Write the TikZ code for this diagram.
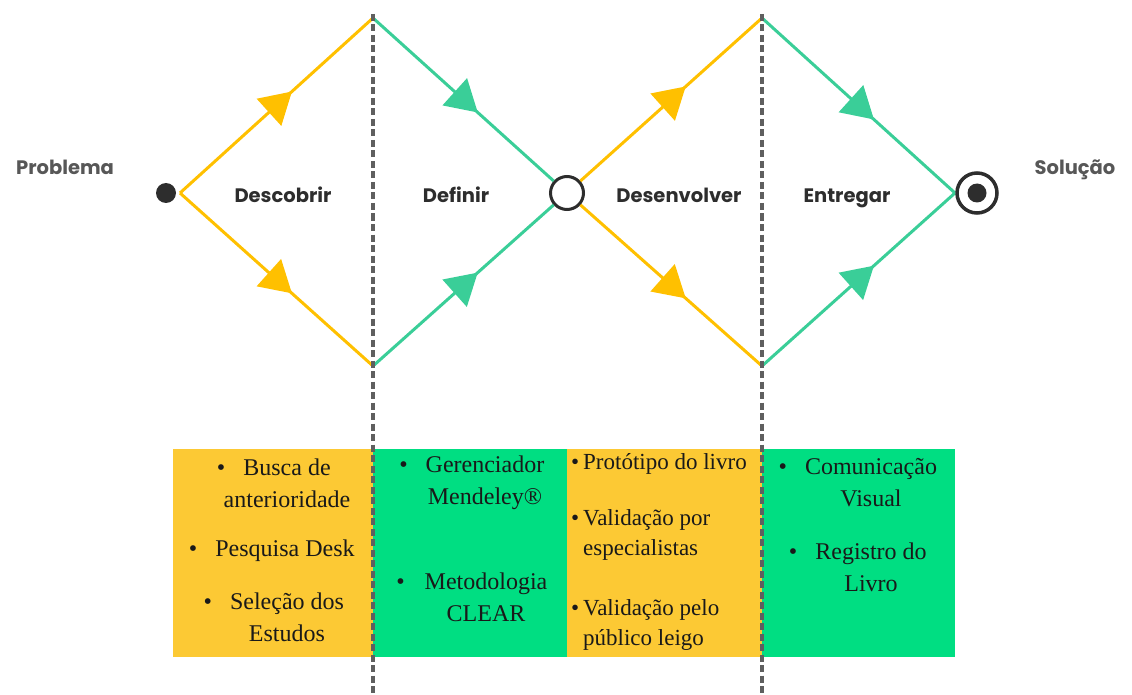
\documentclass[tikz,border=0pt]{standalone}
\usepackage{fontspec}
\setmainfont{Liberation Serif}
\newfontfamily\popfont{Poppins}
\usetikzlibrary{arrows.meta,decorations.markings}
\definecolor{amarelo}{RGB}{255,192,0}
\definecolor{verde}{RGB}{58,206,152}
\definecolor{caixaamarela}{RGB}{252,201,52}
\definecolor{caixaverde}{RGB}{0,222,130}
\definecolor{cinza}{RGB}{45,45,45}
\definecolor{tracejado}{RGB}{95,95,95}
\begin{document}
\begin{tikzpicture}[x=1pt,y=-1pt,
  seta/.style={line width=3pt,draw=#1,fill=#1,postaction={decorate},
    decoration={markings,mark=at position 0.58 with {\arrow{Triangle[length=31pt,width=36pt]}}}},
  fase/.style={font=\popfont\bfseries\fontsize{19.5}{22}\selectfont,text=cinza,inner sep=0pt,anchor=base},
  ponta/.style={font=\popfont\bfseries\fontsize{19.5}{22}\selectfont,text=cinza!80,inner sep=0pt,anchor=base},
  item/.style={font=\fontsize{24}{32}\selectfont,text=black!90,align=center,inner sep=0pt},
  itemb/.style={font=\fontsize{23}{30}\selectfont,text=black!90,align=left,anchor=west,inner sep=0pt},
  divisa/.style={draw=tracejado,line width=3.5pt,dash pattern=on 7pt off 3.5pt}]
\useasboundingbox (0,0) rectangle (1132,695);
\coordinate (v1) at (180,193);
\coordinate (topo1) at (373,18);
\coordinate (base1) at (373,366);
\coordinate (topo2) at (762,18);
\coordinate (base2) at (762,366);
\coordinate (v4) at (955,193);
\node[circle,fill=cinza,minimum size=20pt,inner sep=0pt] (inicio) at (166,193) {};
\node[circle,draw=cinza,line width=3pt,minimum size=33pt,inner sep=0pt] (meio) at (567,193) {};
\draw[seta=amarelo] (v1) -- (topo1);
\draw[seta=amarelo] (v1) -- (base1);
\draw[seta=verde] (topo1) -- (meio);
\draw[seta=verde] (base1) -- (meio);
\draw[seta=amarelo] (meio) -- (topo2);
\draw[seta=amarelo] (meio) -- (base2);
\draw[seta=verde] (topo2) -- (v4);
\draw[seta=verde] (base2) -- (v4);
\node[circle,draw=cinza,line width=3.5pt,minimum size=40pt,inner sep=0pt] (fim) at (977,193) {};
\node[circle,fill=cinza,minimum size=19pt,inner sep=0pt] (fimponto) at (fim) {};
\node[ponta] (problema) at (65,175) {Problema};
\node[ponta] (solucao) at (1075,175) {Solução};
\node[fase] (descobrir) at (283,203) {Descobrir};
\node[fase] (definir) at (456,203) {Definir};
\node[fase] (desenvolver) at (679,203) {Desenvolver};
\node[fase] (entregar) at (847,203) {Entregar};
\fill[caixaamarela] (173,449) rectangle (373,657);
\fill[caixaverde] (373,449) rectangle (567,657);
\fill[caixaamarela] (567,449) rectangle (762,657);
\fill[caixaverde] (762,449) rectangle (955,657);
\draw[divisa] (373,14) -- (373,695);
\draw[divisa] (762,14) -- (762,695);
\node[item] (busca) at (287,483) {\llap{\textbullet\hspace{18pt}}Busca de\\anterioridade};
\node[item] (pesquisa) at (285,551) {\llap{\textbullet\hspace{18pt}}Pesquisa Desk};
\node[item] (selecao) at (287,617) {\llap{\textbullet\hspace{18pt}}Seleção dos\\Estudos};
\node[item] (mendeley) at (485,483) {\llap{\textbullet\hspace{18pt}}Gerenciador\\Mendeley®};
\node[item] (clear) at (486,597) {\llap{\textbullet\hspace{20pt}}Metodologia\\CLEAR};
\node[itemb] (prototipo) at (583,464) {\llap{\textbullet\hspace{4pt}}Protótipo do livro};
\node[itemb] (especialistas) at (583,535) {\llap{\textbullet\hspace{4pt}}Validação por\\especialistas};
\node[itemb] (leigo) at (583,625) {\llap{\textbullet\hspace{4pt}}Validação pelo\\público leigo};
\node[item] (visual) at (871,483) {\llap{\textbullet\hspace{18pt}}Comunicação\\Visual};
\node[item] (registro) at (871,567) {\llap{\textbullet\hspace{18pt}}Registro do\\Livro};
\end{tikzpicture}
\end{document}
